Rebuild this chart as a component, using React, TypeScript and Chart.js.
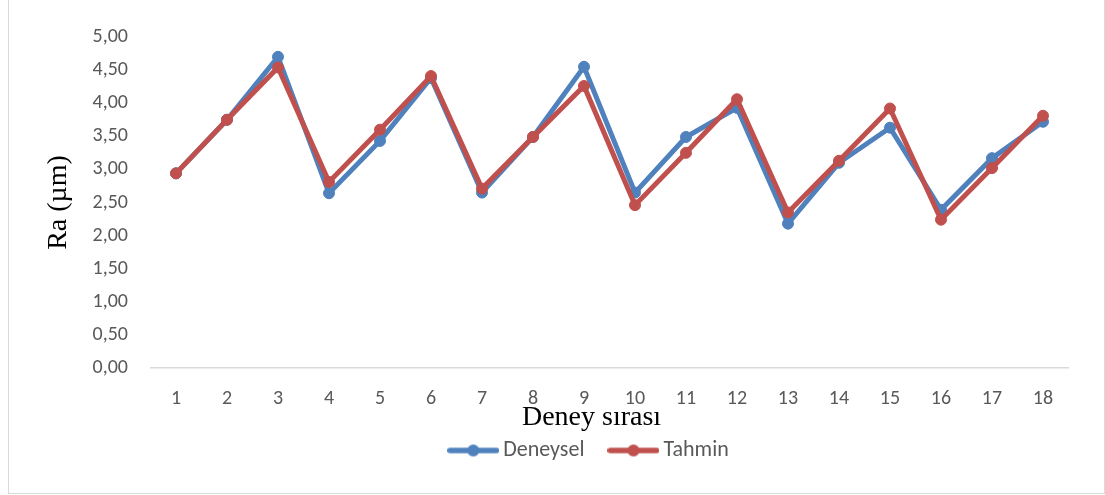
import React, { useEffect, useRef } from "react";
import { Chart, registerables } from "chart.js";

Chart.register(...registerables);

const CATEGORIES = ["1", "2", "3", "4", "5", "6", "7", "8", "9", "10", "11", "12", "13", "14", "15", "16", "17", "18"];
const DENEYSEL = [2.94, 3.75, 4.70, 2.64, 3.43, 4.38, 2.65, 3.49, 4.55, 2.65, 3.49, 3.93, 2.18, 3.10, 3.63, 2.39, 3.17, 3.72];
const TAHMIN = [2.94, 3.75, 4.54, 2.81, 3.60, 4.41, 2.71, 3.49, 4.26, 2.46, 3.25, 4.06, 2.35, 3.13, 3.92, 2.24, 3.02, 3.81];
const Y_TICK_LABELS = ["0,00", "0,50", "1,00", "1,50", "2,00", "2,50", "3,00", "3,50", "4,00", "4,50", "5,00"];
const SERIES_NAMES = ["Deneysel", "Tahmin"];
const SERIES_COLORS = ["#4F81BD", "#C0504D"];
const X_TITLE = "Deney sırası";
const Y_TITLE = "Ra (µm)";

const SANS = "Carlito, Calibri, Lato, sans-serif";
const SERIF = "'Liberation Serif', 'Times New Roman', serif";

function legendIcon(color: string): HTMLCanvasElement {
  const c = document.createElement("canvas");
  c.width = 52;
  c.height = 14;
  const ctx = c.getContext("2d")!;
  ctx.strokeStyle = color;
  ctx.lineWidth = 5.5;
  ctx.lineCap = "round";
  ctx.beginPath();
  ctx.moveTo(2.75, 7);
  ctx.lineTo(49.25, 7);
  ctx.stroke();
  ctx.fillStyle = color;
  ctx.beginPath();
  ctx.arc(26, 7, 6, 0, Math.PI * 2);
  ctx.fill();
  return c;
}

export default function App() {
  const ref = useRef<HTMLCanvasElement>(null);

  useEffect(() => {
    if (!ref.current) return;
    const icons = SERIES_COLORS.map(legendIcon);
    const chart = new Chart(ref.current, {
      type: "line",
      data: {
        labels: CATEGORIES,
        datasets: [
          {
            label: SERIES_NAMES[0],
            data: DENEYSEL,
            borderColor: SERIES_COLORS[0],
            backgroundColor: SERIES_COLORS[0],
            borderWidth: 5,
            pointRadius: 5.5,
            pointBorderWidth: 1,
            pointBackgroundColor: SERIES_COLORS[0],
            pointBorderColor: SERIES_COLORS[0],
            tension: 0,
            order: 2,
          },
          {
            label: SERIES_NAMES[1],
            data: TAHMIN,
            borderColor: SERIES_COLORS[1],
            backgroundColor: SERIES_COLORS[1],
            borderWidth: 5,
            pointRadius: 5.5,
            pointBorderWidth: 1,
            pointBackgroundColor: SERIES_COLORS[1],
            pointBorderColor: SERIES_COLORS[1],
            tension: 0,
            order: 1,
          },
        ],
      },
      options: {
        animation: false,
        responsive: true,
        maintainAspectRatio: false,
        layout: { padding: { left: 70, right: 0, top: 46, bottom: 21.5 } },
        scales: {
          x: {
            offset: true,
            grid: { display: false, drawTicks: false },
            border: { display: true, color: "#D9D9D9", width: 1.5 },
            ticks: {
              color: "#595959",
              font: { family: SANS, size: 20 },
              padding: 18.6,
              maxRotation: 0,
              autoSkip: false,
            },
            afterFit: (scale: any) => {
              scale.height = 40;
            },
          },
          y: {
            min: 0,
            max: 5,
            grid: { display: false, drawTicks: false },
            border: { display: false },
            ticks: {
              stepSize: 0.5,
              color: "#595959",
              font: { family: SANS, size: 20 },
              padding: 22.5,
              callback: (_v: any, i: number) => Y_TICK_LABELS[i],
            },
            title: {
              display: true,
              text: Y_TITLE,
              color: "#000000",
              font: { family: SERIF, size: 28 },
              padding: { top: -36.8, bottom: 0 },
            },
            afterFit: (scale: any) => {
              scale.width = 71.5;
            },
          },
          yRightSpace: {
            type: "linear",
            position: "right",
            display: true,
            grid: { display: false, drawTicks: false },
            border: { display: false },
            ticks: { display: false },
            afterFit: (scale: any) => {
              scale.width = 35.5;
            },
          },
        },
        plugins: {
          legend: {
            position: "bottom",
            labels: {
              usePointStyle: true,
              pointStyleWidth: 38,
              padding: 30,
              color: "#595959",
              font: { family: SANS, size: 22 },
              generateLabels: () =>
                SERIES_NAMES.map((name, i) => ({
                  text: name,
                  fillStyle: SERIES_COLORS[i],
                  strokeStyle: SERIES_COLORS[i],
                  lineWidth: 0,
                  pointStyle: icons[i] as any,
                  hidden: false,
                  datasetIndex: i,
                  fontColor: "#595959",
                })),
            },
          },
          title: {
            display: true,
            position: "bottom",
            text: X_TITLE,
            color: "#000000",
            font: { family: SERIF, size: 28, weight: "normal" },
            padding: { top: -6.8, bottom: -25.3 },
            weight: 500,
          } as any,
          tooltip: { enabled: false },
        },
      },
    });
    return () => chart.destroy();
  }, []);

  return (
    <div
      style={{
        position: "absolute",
        left: 8,
        top: -10,
        width: 1097,
        height: 504,
        boxSizing: "border-box",
        border: "1px solid #D9D9D9",
        background: "#FFFFFF",
      }}
    >
      <canvas ref={ref} />
    </div>
  );
}
